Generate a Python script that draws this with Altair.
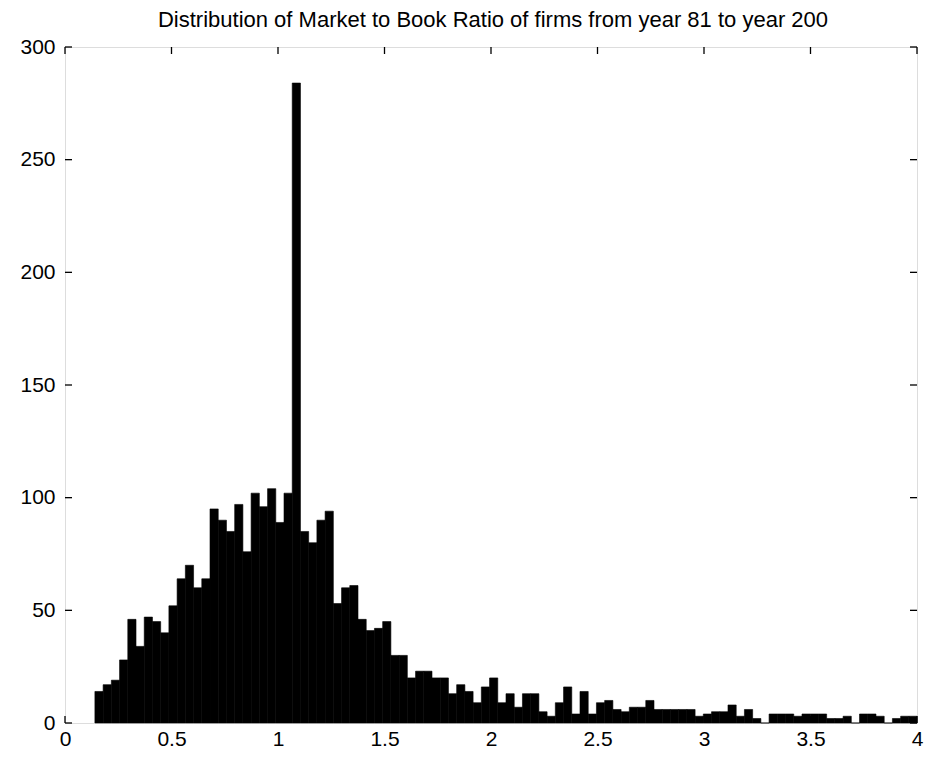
import altair as alt
import pandas as pd

# Histogram counts (100 equal bins)
counts = [14, 17, 19, 28, 46, 34, 47, 45, 40, 52,
          64, 70, 60, 64, 95, 90, 85, 97, 76, 102,
          96, 104, 89, 102, 284, 85, 80, 90, 94, 53,
          60, 61, 46, 41, 42, 45, 30, 30, 20, 23,
          23, 20, 20, 13, 17, 14, 9, 16, 20, 9,
          13, 7, 13, 13, 5, 3, 9, 16, 4, 14,
          4, 9, 10, 6, 5, 7, 7, 10, 6, 6,
          6, 6, 6, 3, 4, 5, 5, 8, 3, 6,
          2, 0, 4, 4, 4, 3, 4, 4, 4, 2,
          2, 3, 0, 4, 4, 3, 0, 2, 3, 3]
bin_lo = 0.1404
bin_w = 0.0386

x_ticks = [0, 0.5, 1, 1.5, 2, 2.5, 3, 3.5, 4]
y_ticks = [0, 50, 100, 150, 200, 250, 300]

title = ["Distribution of Market to Book Ratio of firms from year 81 to year 200"]

W, H = 852, 676
TL = 7

df = pd.DataFrame({
    "x0": [bin_lo + i * bin_w for i in range(len(counts))],
    "x1": [bin_lo + (i + 1) * bin_w for i in range(len(counts))],
    "count": counts,
})
xt = pd.DataFrame({"v": x_ticks})
yt = pd.DataFrame({"v": y_ticks})
tt = pd.DataFrame({"t": title})

xs = alt.Scale(domain=[0, 4], nice=False, zero=False)
ys = alt.Scale(domain=[0, 300], nice=False)

font = "Liberation Sans"

bars = alt.Chart(df).mark_rect(color="black", stroke="black", strokeWidth=0.6).encode(
    x=alt.X("x0:Q", scale=xs,
            axis=alt.Axis(values=x_ticks, format="~g", title=None, ticks=False,
                          domain=False, grid=False, labelFontSize=21, labelFont=font,
                          labelColor="black", labelPadding=5, labelFlush=False)),
    x2="x1:Q",
    y=alt.Y("count:Q", scale=ys,
            axis=alt.Axis(values=y_ticks, title=None, ticks=False, domain=False,
                          grid=False, labelFontSize=21, labelFont=font,
                          labelColor="black", labelPadding=10, labelFlush=False)),
    y2=alt.datum(0),
)

tick_style = dict(color="black", strokeWidth=1.3)
bx = alt.Chart(xt).mark_rule(**tick_style).encode(
    x=alt.X("v:Q", scale=xs), y=alt.value(H), y2=alt.value(H - TL))
tx = alt.Chart(xt).mark_rule(**tick_style).encode(
    x=alt.X("v:Q", scale=xs), y=alt.value(0), y2=alt.value(TL))
ly = alt.Chart(yt).mark_rule(**tick_style).encode(
    y=alt.Y("v:Q", scale=ys), x=alt.value(0), x2=alt.value(TL))
ry = alt.Chart(yt).mark_rule(**tick_style).encode(
    y=alt.Y("v:Q", scale=ys), x=alt.value(W), x2=alt.value(W - TL))

ttl = alt.Chart(tt).mark_text(font=font, fontSize=22, color="black", align="center",
                              baseline="alphabetic").encode(
    text="t:N", x=alt.value(W / 2 + 2), y=alt.value(-20))

chart = alt.layer(bars, bx, tx, ly, ry, ttl).properties(
    width=W, height=H,
    padding={"left": 57, "top": 39, "right": 7, "bottom": 25},
    autosize=alt.AutoSizeParams(type="none"),
).configure_view(stroke="black", strokeWidth=1.6).configure(background="white")

chart.save("out.html", embed_options={"renderer": "svg", "actions": False})
